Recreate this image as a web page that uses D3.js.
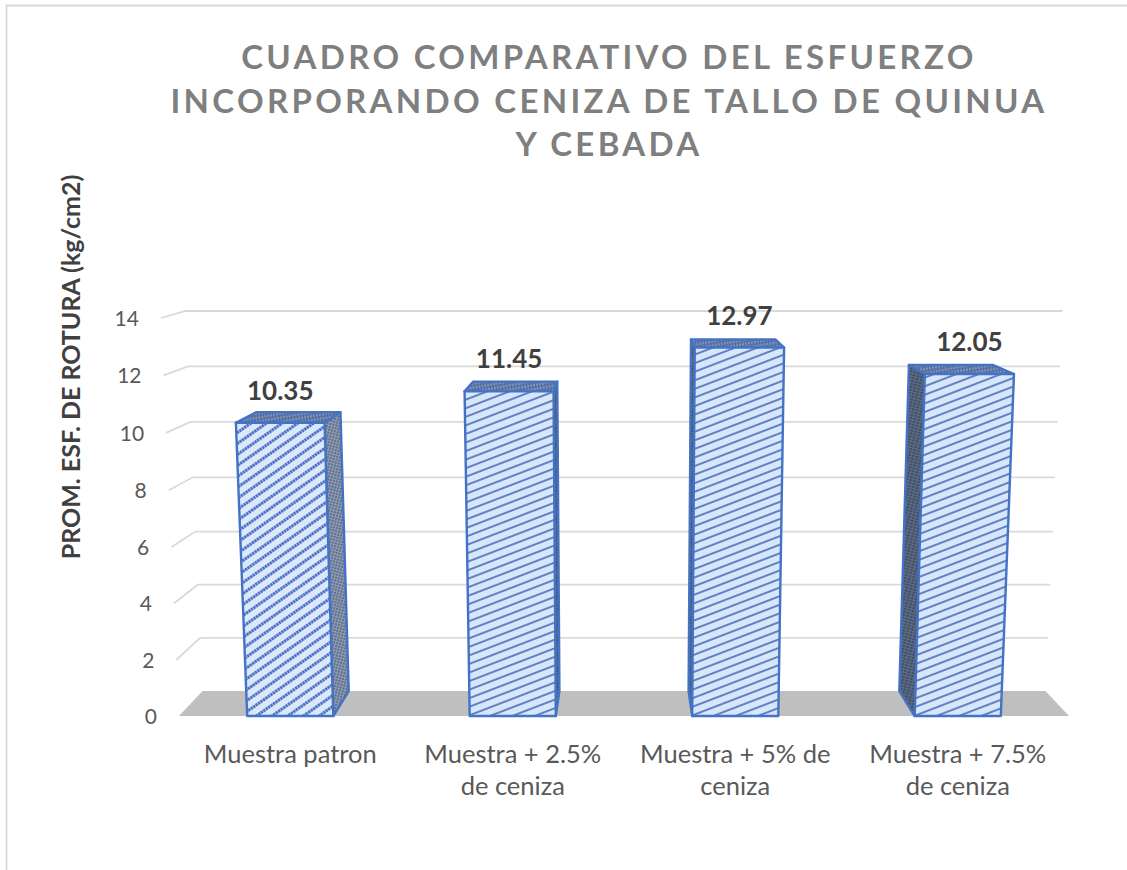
<!DOCTYPE html>
<meta charset="utf-8">
<style>
 body { margin: 0; background: #fff; }
 text { font-family: Lato, "Open Sans", sans-serif; }
</style>
<body>
<script src="https://cdn.jsdelivr.net/npm/d3@7"></script>
<script>

var categories = ["Muestra patron", "Muestra + 2.5% de ceniza", "Muestra + 5% de ceniza", "Muestra + 7.5% de ceniza"];
var categoryLines = [["Muestra patron"], ["Muestra + 2.5%", "de ceniza"], ["Muestra + 5% de", "ceniza"], ["Muestra + 7.5%", "de ceniza"]];
var values = [10.35, 11.45, 12.97, 12.05];
var valueLabels = ["10.35", "11.45", "12.97", "12.05"];
var tickValues = [0, 2, 4, 6, 8, 10, 12, 14];
var titleLines = ["CUADRO COMPARATIVO DEL ESFUERZO", "INCORPORANDO CENIZA DE TALLO DE QUINUA", "Y CEBADA"];
var yTitle = "PROM. ESF. DE ROTURA (kg/cm2)";

var width = 1127, height = 870;

var svg = d3.select("body").append("svg")
    .attr("width", width)
    .attr("height", height)
    .style("display", "block");

// hatch fills
var defs = svg.append("defs");
function hatch(id, bg, line, angle, gap, sw, dash, cross) {
    var p = defs.append("pattern")
        .attr("id", id)
        .attr("patternUnits", "userSpaceOnUse")
        .attr("width", 6).attr("height", gap)
        .attr("patternTransform", "rotate(" + angle + ")");
    p.append("rect").attr("width", 6).attr("height", gap).attr("fill", bg);
    p.append("line").attr("x1", 0).attr("x2", 6).attr("y1", gap / 2).attr("y2", gap / 2)
        .attr("stroke", line).attr("stroke-width", sw).attr("stroke-dasharray", dash);
    if (cross) {
        [1.5, 4.5].forEach(function(x) {
            p.append("line").attr("y1", 0).attr("y2", gap).attr("x1", x).attr("x2", x)
                .attr("stroke", line).attr("stroke-width", sw);
        });
    }
}
hatch("front1", "#dbe7fb", "#4a70c4", -35, 9, 3, "2.4 0.6");
hatch("front", "#d8e6fb", "#5f82c4", -21, 8, 2);
hatch("sideMid", "#5f6f8c", "#8f9cb3", -75, 3, 1, null, true);
hatch("sideDark", "#3c4a60", "#5f6e88", -75, 4, 1.2, null, true);
hatch("topDark", "#8f9db5", "#4a6aa5", -10, 4, 1.3, null, true);

// front plane, back plane, perspective of the chart floor and walls
var xFront = d3.scaleBand().domain(categories).range([179, 1069]).paddingInner(0.613).paddingOuter(0.3065);
var yFront = d3.scaleLinear().domain([0, 7, 14]).range([716, 519, 318]);
var yBack = d3.scaleLinear().domain([0, 7, 14]).range([691, 505, 311]);
var centerX = 624, depthShrink = 0.947, spread = 0.0029;

function project(px, v, back) {
    var k = (1 + spread * v) * (back ? depthShrink : 1);
    return [centerX + (px - centerX) * k, back ? yBack(v) : yFront(v)];
}
function poly(pts) { return pts.map(function(p) { return p.join(","); }).join(" "); }

// frame
svg.append("path")
    .attr("d", d3.line()([[1127, 5.5], [6.5, 5.5], [6.5, 870]]))
    .attr("fill", "none").attr("stroke", "#d9d9d9").attr("stroke-width", 1.8);

// floor
svg.append("polygon")
    .attr("points", poly([project(179, 0, false), project(1069, 0, false), project(1069, 0, true), project(179, 0, true)]))
    .attr("fill", "#bfbfbf");

// gridlines on the back wall plus the left wall ticks
var grid = svg.append("g").attr("fill", "none").attr("stroke", "#d9d9d9").attr("stroke-width", 1.8);
tickValues.filter(function(d) { return d > 0; }).forEach(function(d) {
    grid.append("path").attr("d", d3.line()([project(179, d, false), project(179, d, true), project(1069, d, true)]));
});

// y tick labels
svg.append("g").selectAll("text")
    .data(tickValues)
    .join("text")
    .attr("x", function(d) { return project(179, d, false)[0] - 22; })
    .attr("y", function(d) { return yFront(d) + 8; })
    .attr("text-anchor", "end")
    .attr("font-size", 21)
    .attr("fill", "#595959")
    .text(function(d) { return d; });

// bars
var bars = svg.append("g").selectAll("g")
    .data(categories)
    .join("g");

bars.each(function(c, i) {
    var g = d3.select(this);
    var v = values[i], x0 = xFront(c), x1 = x0 + xFront.bandwidth();
    var onLeft = x0 + xFront.bandwidth() / 2 > centerX;
    var sx = onLeft ? x0 : x1;
    g.append("polygon")
        .attr("points", poly([project(sx, 0, false), project(sx, 0, true), project(sx, v, true), project(sx, v, false)]))
        .attr("fill", i === 0 ? "url(#sideMid)" : "url(#sideDark)");
    g.append("polygon")
        .attr("points", poly([project(x0, v, false), project(x1, v, false), project(x1, v, true), project(x0, v, true)]))
        .attr("fill", "url(#topDark)");
    g.append("polygon")
        .attr("points", poly([project(x0, 0, false), project(x1, 0, false), project(x1, v, false), project(x0, v, false)]))
        .attr("fill", i === 0 ? "url(#front1)" : "url(#front)");
    g.selectAll("polygon")
        .attr("stroke", "#4472c4").attr("stroke-width", 2.4).attr("stroke-linejoin", "round");
});

// value labels
svg.append("g").selectAll("text")
    .data(categories)
    .join("text")
    .attr("x", function(c, i) {
        return (project(xFront(c), values[i], false)[0] + project(xFront(c) + xFront.bandwidth(), values[i], false)[0]) / 2;
    })
    .attr("y", function(c, i) { return yFront(values[i]) - 23; })
    .attr("text-anchor", "middle")
    .attr("font-size", 26)
    .attr("font-weight", 700)
    .attr("fill", "#404040")
    .text(function(c, i) { return valueLabels[i]; });

// category labels
var catLabels = svg.append("g").selectAll("text")
    .data(categories)
    .join("text")
    .attr("text-anchor", "middle")
    .attr("font-size", 25.5)
    .attr("fill", "#595959");
catLabels.each(function(c, i) {
    d3.select(this).selectAll("tspan")
        .data(categoryLines[i])
        .join("tspan")
        .attr("x", xFront(c) + xFront.bandwidth() / 2)
        .attr("y", function(d, j) { return 763 + j * 32; })
        .text(function(d) { return d; });
});

// title
svg.append("g").selectAll("text")
    .data(titleLines)
    .join("text")
    .attr("x", 609)
    .attr("y", function(d, i) { return 69 + i * 43.5; })
    .attr("text-anchor", "middle")
    .attr("font-size", 33)
    .attr("font-weight", 700)
    .attr("letter-spacing", 3.3)
    .attr("fill", "#7f7f7f")
    .text(function(d) { return d; });

// y axis title
svg.append("text")
    .attr("transform", "translate(80,367) rotate(-90)")
    .attr("text-anchor", "middle")
    .attr("font-size", 25)
    .attr("font-weight", 700)
    .attr("fill", "#404040")
    .text(yTitle);

</script>
</body>
